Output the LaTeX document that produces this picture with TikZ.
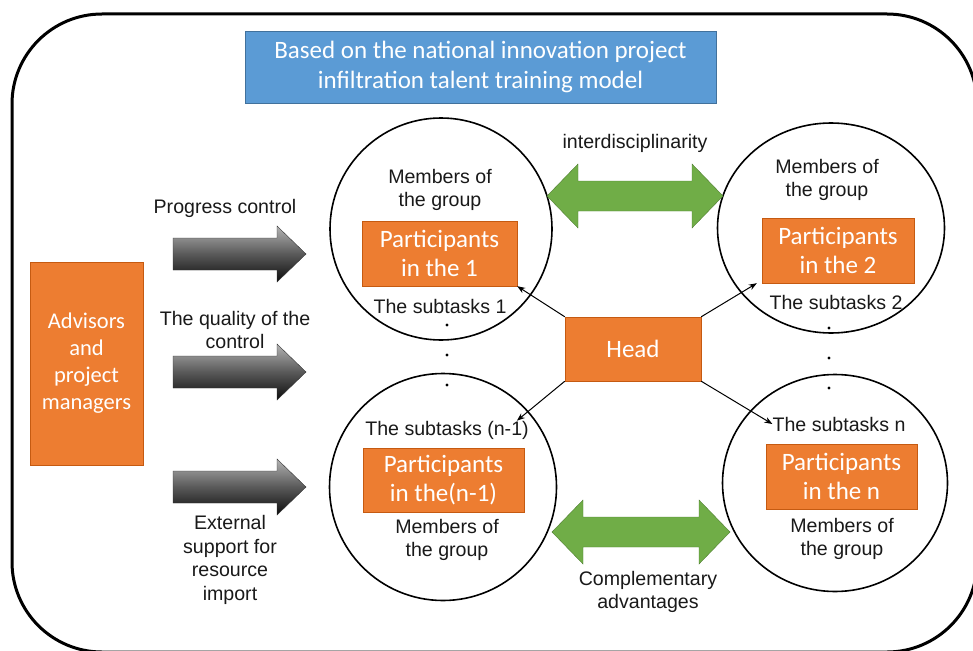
\documentclass[tikz,border=0pt]{standalone}
\usepackage{fontspec}
\setmainfont{Liberation Sans}
\newfontfamily\boxfont{Carlito}
\usetikzlibrary{shapes.geometric,arrows.meta}
\definecolor{orng}{HTML}{ED7D31}
\definecolor{orngline}{HTML}{C55A11}
\definecolor{blu}{HTML}{5B9BD5}
\definecolor{bluline}{HTML}{41719C}
\definecolor{grn}{HTML}{70AD47}
\definecolor{grnline}{HTML}{507E32}

\begin{document}
\begin{tikzpicture}[x=1pt,y=-1pt]
	\tikzstyle{box}=[draw=orngline, fill=orng, text=white, align=center, inner sep=0pt, font=\boxfont\fontsize{25}{29}\selectfont]
	\tikzstyle{team}=[ellipse, draw=black, line width=1.6pt, inner sep=0pt]
	\tikzstyle{txt}=[align=center, inner sep=0pt, text=black!90, font=\fontsize{19.6}{23.5}\selectfont]
	\tikzstyle{link}=[draw=black, line width=1pt, -{Stealth[length=8pt,width=6pt]}]
	\tikzstyle{blk}=[draw=black!80, top color=gray!60, bottom color=black!95, middle color=black!65]
	\tikzstyle{dbl}=[draw=grnline, fill=grn]

	\useasboundingbox (0,0) rectangle (973,650);
	\draw[line width=3pt, rounded corners=90pt] (12,14) rectangle (977,652);

	\node [draw=bluline, fill=blu, text=white, align=center, inner sep=0pt, minimum width=471pt, minimum height=72pt,
	       font=\boxfont\fontsize{25}{30}\selectfont] (title) at (480.5,67) {Based on the national innovation project\\infiltration talent training model};

	% the four groups
	\node [team, minimum width=222pt, minimum height=222pt] (c1) at (441,229) {};
	\node [team, minimum width=227pt, minimum height=210pt] (c2) at (831,228) {};
	\node [team, minimum width=227pt, minimum height=227pt] (c3) at (443,487) {};
	\node [team, minimum width=225pt, minimum height=217pt] (c4) at (835,483) {};

	\node [box, minimum width=113pt, minimum height=203pt, font=\boxfont\fontsize{22.5}{27}\selectfont] (adv) at (86.5,363.5) {Advisors\\and\\project\\managers};
	\node [box, minimum width=155pt, minimum height=65pt] (p1) at (439.5,253.5) {Participants\\in the 1};
	\node [box, minimum width=152pt, minimum height=65pt] (p2) at (838,250.5) {Participants\\in the 2};
	\node [box, minimum width=161pt, minimum height=64pt] (pm) at (443.5,480) {Participants\\in the(n-1)};
	\node [box, minimum width=151pt, minimum height=65pt] (pn) at (841.5,476.5) {Participants\\in the n};
	\node [box, minimum width=136pt, minimum height=64pt] (head) at (633,349) {Head};

	\node [txt] (m1) at (440,190) {Members of\\the group};
	\node [txt] (s1) at (440,306) {The subtasks 1};
	\node [txt] (m2) at (827,180) {Members of\\the group};
	\node [txt] (s2) at (836,302) {The subtasks 2};
	\node [txt] (sm) at (447,430) {The subtasks (n-1)};
	\node [txt] (mm) at (447,540) {Members of\\the group};
	\node [txt] (sn) at (839,424) {The subtasks n};
	\node [txt] (mn) at (842,539) {Members of\\the group};

	\node [txt] (inter) at (635,143) {interdisciplinarity};
	\node [txt] (compl) at (648,592) {Complementary\\advantages};
	\node [txt] (prog) at (225,208) {Progress control};
	\node [txt] (qual) at (235,330) {The quality of the\\control};
	\node [txt] (ext) at (230,560) {External\\support for\\resource\\import};

	\foreach \y in {325,355,385} \fill (447,\y) circle (1.6pt);
	\foreach \y in {328,358,388} \fill (829,\y) circle (1.6pt);

	\foreach \y in {254,372,487}
		\shade[blk] (173,\y-16) -- (277,\y-16) -- (277,\y-28) -- (306,\y) -- (277,\y+28) -- (277,\y+16) -- (173,\y+16) -- cycle;

	\foreach \y/\a/\b in {196/547/723, 532/552/730}
		\path[dbl] (\a,\y) -- (\a+31,\y-32) -- (\a+31,\y-15) -- (\b-31,\y-15) -- (\b-31,\y-32) -- (\b,\y)
		           -- (\b-31,\y+32) -- (\b-31,\y+15) -- (\a+31,\y+15) -- (\a+31,\y+32) -- cycle;

	\path[link] (head.north west) -- (p1.south east);
	\path[link] (head.north east) -- ([xshift=-5pt]p2.south west);
	\path[link] (head.south west) -- ([xshift=-12pt]sm.north east);
	\path[link] (head.south east) -- (sn.west);
\end{tikzpicture}
\end{document}
